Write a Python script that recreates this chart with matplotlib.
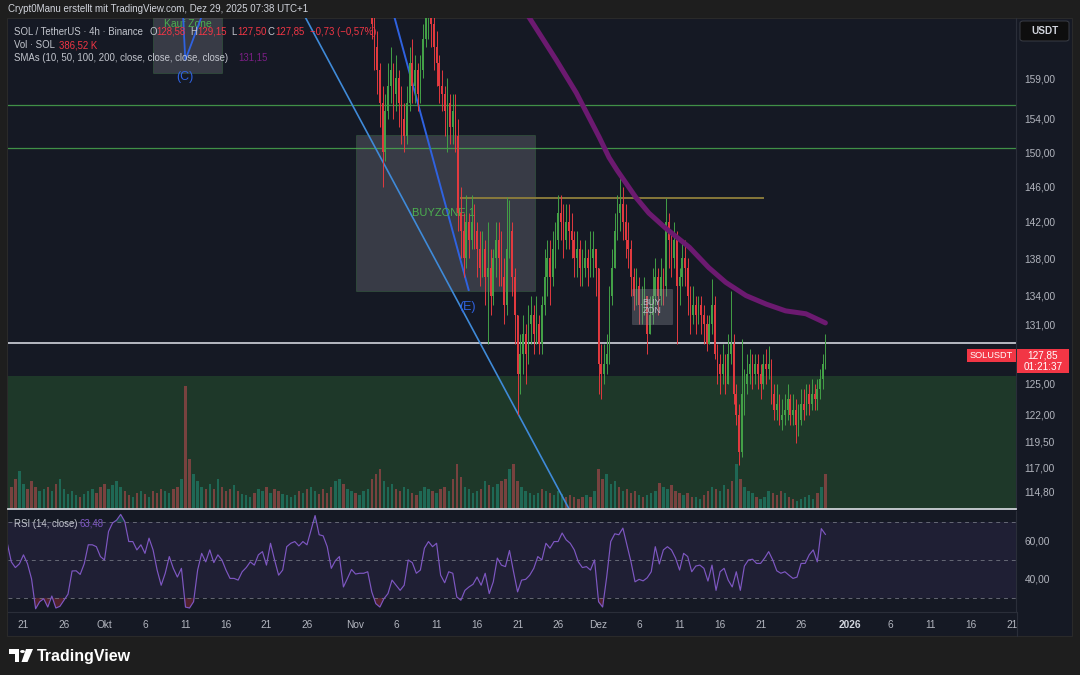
import matplotlib
matplotlib.use("Agg")
import matplotlib.pyplot as plt
import matplotlib.dates as mdates
import matplotlib.transforms as mtransforms
from matplotlib.patches import Rectangle, Polygon, Circle, FancyBboxPatch
from matplotlib.ticker import NullLocator, FixedLocator
import numpy as np
import pandas as pd

plt.rcParams['font.family'] = ['Liberation Sans', 'DejaVu Sans']

# ---------------- DATA ----------------
# SOL/USDT candles, 8h resolution, starting 2025-11-03 00:00
candle_start = '2025-11-03 00:00'
first_open = 170.0
close = [
    166, 163, 160, 156, 150, 155, 158, 160, 157, 159, 156, 154, 152, 156, 161, 158, 160, 157, 160, 164, 167, 168, 166, 163,
    161, 158, 157, 155, 156, 153, 155, 152, 143, 141, 138, 142, 140, 142, 141, 139, 137, 139, 136, 137, 134, 138, 140, 138,
    136, 133, 139, 141, 136, 132, 126, 128, 130, 128, 131, 132, 130, 131, 129, 133, 136, 138, 136, 139, 140, 143, 142, 140,
    142, 141, 140, 138, 139, 137, 137, 138, 137, 138, 139, 137, 127, 126, 127, 128, 134, 137, 141, 143, 144, 142, 140, 139,
    136, 134, 135, 133, 133, 134, 130, 132, 134, 136, 134, 136, 135, 142, 140, 138, 140, 135, 136, 138, 137, 134, 132, 133,
    132, 133, 132, 131, 129, 131, 133, 128, 127, 126, 127, 125, 128, 129, 124, 122, 118.5, 124, 125, 126, 127, 126, 127, 126,
    125, 127, 126.5, 127, 124, 122.5, 123, 121.5, 122, 122.5, 123.5, 122, 122.5, 121, 121.5, 123, 122.5, 124, 123, 124, 123.5,
    124.5, 125.5, 127, 127.85]
high = [
    172, 167, 165, 161, 158, 157, 161, 163, 161, 162, 160, 158, 156, 158, 163, 164, 162, 161, 162, 166, 170, 172, 171, 168,
    165, 162, 160, 158, 159, 157, 157, 157, 154, 146, 143, 145, 143, 145, 144, 142, 141, 141, 140, 142, 139, 139, 142, 142,
    141, 138, 144.8, 144.5, 142, 137, 132, 130, 132, 131, 133, 134, 133, 134, 132, 134, 139, 140, 140, 141, 142, 145, 145, 144,
    144, 144, 143, 141, 141, 140, 139, 140, 139, 141, 141, 139, 137, 129, 129, 130, 135, 139, 143, 145, 147, 146, 144, 142,
    140, 137, 137, 136, 135, 136, 134, 134, 137, 138, 137, 138, 137, 144.7, 143, 141, 142, 141, 137, 140, 140, 138, 135, 135,
    134, 134, 134, 133, 132, 132, 135.8, 134, 129, 128, 129, 128, 130, 134.5, 130, 125, 123, 129.5, 126.5, 128, 128.5, 128, 128, 128,
    127, 128, 128.5, 128.8, 127.5, 125, 125, 124, 123.5, 124, 125, 124, 124, 123.5, 123, 124.5, 124.5, 125, 125, 125.5, 125,
    125.5, 126.5, 128, 130.0]
low = [
    164, 160, 157, 153, 146, 149, 154, 156, 154, 155, 153, 151, 150, 151, 155, 156, 156, 155, 156, 159, 163, 164, 163, 160,
    158, 156, 155, 152, 150, 151, 151, 150, 141, 138, 136, 137, 138, 139, 139, 136, 135, 136, 133, 129, 132, 133, 136, 135,
    135, 131, 132, 138, 134, 129, 122, 124, 126, 125, 127, 129, 128, 129, 128, 128, 132, 134, 133, 135, 137, 139, 140, 138,
    139, 139, 138, 136, 136, 135, 135, 136, 135, 136, 136, 134, 124, 123.5, 125, 126, 127, 133, 137, 140, 141, 140, 138, 137,
    134, 132.5, 133, 131, 131, 132, 128, 130, 131, 133, 132, 133, 133, 134, 137, 136, 137, 129, 133, 135, 135, 132, 130, 131,
    130, 131, 130, 129, 128.3, 129, 130, 127.5, 125, 124, 125, 124, 125, 127, 123, 121, 117.3, 118, 122, 124, 125, 124.5, 125, 124.5,
    123.5, 124.5, 125, 125.5, 123, 121.5, 121.5, 121, 120.5, 121, 121.5, 121, 121, 119.3, 120, 121, 121.5, 122, 122, 122.5, 122.5,
    122.5, 123.5, 124.5, 126.5]

# RSI(14) and volume, 12h samples starting 2025-09-19 00:00
ind_start = '2025-09-19 00:00'
rsi = [
    58.8, 49, 46, 48, 52.7, 48, 40, 24.3, 28, 29.6,
    25.2, 31, 24.7, 25.6, 28.8, 32, 44.2, 44.3, 42.4, 48,
    58, 58, 57, 51.8, 50, 65, 69.5, 71, 74, 70.3,
    59.7, 59.7, 55.3, 58, 53.5, 61.5, 55.3, 44.7, 36.7, 43,
    51.8, 45.6, 41, 45.6, 25.2, 24.7, 28, 44.7, 53.5, 49,
    55.3, 48.6, 52.7, 50, 44.7, 40.3, 40.3, 39.4, 43.8, 46,
    49, 47.3, 52.7, 54.4, 47.3, 58.8, 50, 42, 44.7, 57,
    58.8, 59.7, 57.4, 59.7, 58, 65.6, 73.4, 63.3, 62.7, 57,
    45.6, 49.6, 51.8, 35.8, 40.3, 45, 42.6, 43, 43, 43.8,
    33.2, 27, 25.2, 29.6, 32.3, 39.4, 36.7, 34, 36.7, 50,
    48.6, 43, 44.7, 56.2, 59.7, 57, 58.8, 42, 38, 43.8,
    43, 30.5, 28.8, 34, 35.8, 37.2, 41, 36.7, 43, 32.3,
    38.5, 51, 47.3, 46.5, 55, 43.8, 33.2, 39.4, 39.8, 42,
    45.6, 51.8, 50, 58.8, 56.2, 59.7, 59.7, 64.2, 60.6, 58.8,
    55.3, 49, 46, 46.5, 44.7, 50, 28, 25.2, 41, 59.7,
    63.8, 63.3, 66.8, 58, 49, 38.5, 39.8, 39, 40.6, 43.8,
    57, 47.9, 55.3, 57, 55.3, 51, 44.7, 53.5, 51.8, 43.8,
    46.8, 47.3, 45.6, 38.9, 47.3, 34, 43.8, 45.6, 39.4, 35.8,
    43.8, 34, 46.8, 50, 50.4, 48.2, 48.2, 51, 54.4, 50,
    44.3, 43, 43.8, 42, 40.3, 41, 48.2, 48.2, 52.7, 55.3,
    49, 66.5, 63.48]
vol_10k = [
    18, 22, 30, 38, 25, 20, 28, 22, 18, 20,
    22, 18, 25, 30, 20, 15, 18, 14, 12, 15,
    18, 20, 16, 22, 25, 20, 24, 28, 22, 18,
    14, 12, 16, 18, 15, 12, 18, 16, 20, 18,
    16, 20, 22, 30, 123, 50, 35, 28, 22, 20,
    25, 20, 30, 22, 18, 20, 24, 18, 15, 14,
    12, 16, 20, 18, 22, 16, 20, 18, 15, 14,
    12, 14, 18, 16, 20, 22, 18, 15, 20, 16,
    22, 28, 30, 25, 20, 18, 16, 14, 18, 20,
    30, 35, 40, 28, 22, 25, 20, 18, 22, 20,
    16, 14, 18, 22, 20, 18, 16, 20, 22, 18,
    30, 45, 32, 22, 20, 16, 18, 20, 28, 24,
    22, 25, 28, 30, 40, 45, 28, 22, 18, 16,
    14, 16, 20, 18, 16, 14, 18, 15, 12, 14,
    12, 10, 12, 14, 12, 18, 40, 30, 35, 25,
    28, 22, 18, 20, 16, 18, 14, 12, 14, 16,
    18, 26, 22, 20, 24, 18, 16, 14, 16, 12,
    12, 10, 14, 18, 22, 20, 18, 24, 20, 28,
    45, 30, 22, 18, 16, 12, 10, 12, 18, 16,
    14, 18, 16, 12, 10, 8, 10, 12, 14, 10,
    16, 22, 35]

# SMA 200 (purple) readings
sma_dates = ['2025-11-21 12:00', '2025-11-22 12:00', '2025-11-25 19:00', '2025-11-28 06:00', '2025-12-01 02:00',
             '2025-12-02 07:00', '2025-12-03 07:00', '2025-12-05 14:00', '2025-12-07 05:00', '2025-12-09 07:00',
             '2025-12-12 05:00', '2025-12-14 14:00', '2025-12-16 17:00', '2025-12-19 05:00', '2025-12-21 17:00',
             '2025-12-24 02:00', '2025-12-26 14:00', '2025-12-29 00:00']
sma_vals = [168.4, 166.7, 161.3, 157.2, 151.8, 149.4, 147.9, 144.8, 143.0, 141.3,
            139.2, 137.0, 135.4, 134.0, 133.1, 132.4, 132.1, 131.15]

# axis ticks
x_tick_dates = ['2025-09-21', '2025-09-26', '2025-10-01', '2025-10-06', '2025-10-11', '2025-10-16', '2025-10-21',
                '2025-10-26', '2025-11-01', '2025-11-06', '2025-11-11', '2025-11-16', '2025-11-21', '2025-11-26',
                '2025-12-01', '2025-12-06', '2025-12-11', '2025-12-16', '2025-12-21', '2025-12-26', '2026-01-01',
                '2026-01-06', '2026-01-11', '2026-01-16', '2026-01-21']
x_tick_labels = ['21', '26', 'Okt', '6', '11', '16', '21', '26', 'Nov', '6', '11', '16', '21', '26',
                 'Dez', '6', '11', '16', '21', '26', '2026', '6', '11', '16', '21']
price_ticks = [114.8, 117, 119.5, 122, 125, 131, 134, 138, 142, 146, 150, 154, 159]
price_tick_labels = ['114,80', '117,00', '119,50', '122,00', '125,00', '131,00', '134,00', '138,00',
                     '142,00', '146,00', '150,00', '154,00', '159,00']
rsi_ticks = [40, 60]
rsi_tick_labels = ['40,00', '60,00']

# drawn levels / zones
green_levels = [155.65, 150.53]
white_level = 129.05
zone_top = 125.8
resistance = 144.67
last_price = 127.85

# ---------------- STYLE ----------------
W, H = 1080, 675
BG = '#151924'
OUTER = '#1e1e1e'
UP = '#43a047'
DN = '#e23a3f'
TXT = '#b2b5be'
GRID = '#2a2e39'
FS = 6.9

def R(x0, y0, x1, y1):
    return [x0 / W, 1 - y1 / H, (x1 - x0) / W, (y1 - y0) / H]

def P(x, y):
    return (x / W, 1 - y / H)

def d(s):
    return mdates.date2num(pd.Timestamp(s).to_pydatetime())

fig = plt.figure(figsize=(10.8, 6.75), dpi=100)
fig.patch.set_facecolor(OUTER)
fig.add_artist(Rectangle(P(7, 636), 1065 / W, 618 / H, transform=fig.transFigure,
                         facecolor=BG, edgecolor='#2a2a2a', lw=0.8, zorder=-10))

XL = (d('2025-09-19 02:10'), d('2026-01-21 12:45'))

# ---- volume axes (behind) ----
vax = fig.add_axes(R(8, 18, 1016, 509))
vax.set_facecolor('none')
vax.set_xlim(*XL)
vax.set_ylim(0, 490)
vax.axis('off')

# ---- main price axes ----
ax = fig.add_axes(R(8, 18, 1016, 509))
ax.set_facecolor('none')
ax.set_yscale('log')
ax.set_xlim(*XL)
ax.set_ylim(113.27, 166.75)

# green zone (behind volume)
blend_v = mtransforms.blended_transform_factory(vax.transAxes, ax.transData)
vax.add_patch(Rectangle((0, 100), 1, zone_top - 100, transform=blend_v,
                        facecolor='#1f3a2a', edgecolor='none', alpha=0.95, zorder=0))

t_ind = mdates.date2num(pd.date_range(ind_start, periods=len(rsi), freq='12h').to_pydatetime())
rsi_a = np.array(rsi)
vol_up = np.concatenate([[True], rsi_a[1:] >= rsi_a[:-1]])
vax.bar(t_ind, vol_10k, width=0.3, color=np.where(vol_up, '#22ab94', '#f7525f'), alpha=0.42, lw=0, zorder=1)

# horizontal levels
for lv in green_levels:
    ax.axhline(lv, color='#4caf50', lw=0.9, alpha=0.8, zorder=2)
ax.axhline(white_level, color='#d1d4dc', lw=1.2, zorder=2)
ax.hlines(resistance, d('2025-11-13 20:00'), d('2025-12-21 10:00'), color='#8f7f3c', lw=1.3, zorder=2)

# BUYZONE box
ax.add_patch(Rectangle((d('2025-11-01 00:00'), 134.45), d('2025-11-23 05:00') - d('2025-11-01 00:00'),
                       152.04 - 134.45, facecolor='#8a8d96', alpha=0.3, edgecolor='#4caf50', lw=0.5, zorder=1.5))
ax.text(d('2025-11-11 21:00'), 142.96, 'BUYZONE 1', color='#4caf50', fontsize=8, ha='center', va='center', zorder=2.5)

# small BUY ZON box
ax.add_patch(Rectangle((d('2025-12-05 03:00'), 131.05), d('2025-12-10 01:00') - d('2025-12-05 03:00'),
                       134.7 - 131.05, facecolor='#8a8d96', alpha=0.35, edgecolor='#9598a1', lw=0.4, zorder=3.5))
ax.text(d('2025-12-07 14:00'), 132.85, 'BUY\nZON', color='#b8bbc4', fontsize=6.5, ha='center', va='center',
        linespacing=0.9, zorder=3.6)

# Kauf Zone box
ax.add_patch(Rectangle((d('2025-10-07 00:00'), 159.67), d('2025-10-15 12:00') - d('2025-10-07 00:00'),
                       180 - 159.67, facecolor='#8a8d96', alpha=0.3, edgecolor='#4caf50', lw=0.5, zorder=1.5))
ax.text(d('2025-10-11 06:00'), 166.0, 'Kauf Zone', color='#4caf50', fontsize=7.5, ha='center', va='center',
        zorder=2.5, clip_on=True)
ax.plot([d('2025-10-10 16:00'), d('2025-10-10 23:30'), d('2025-10-13 07:00')], [167.8, 161.3, 167.8],
        color='#2f62e0', lw=1.3, zorder=2.6)
ax.text(d('2025-10-10 23:30'), 159.16, '(C)', color='#2f62e0', fontsize=9, ha='center', va='center', zorder=2.6)

# trend lines
ax.plot([d('2025-10-23 08:00'), d('2025-11-28 20:00')], [171.8, 111.3], color='#3f8ad8', lw=1.2, zorder=2.4)
ax.plot([d('2025-11-04 21:00'), d('2025-11-14 23:00')], [170.5, 134.6], color='#2f62e0', lw=1.4, zorder=2.4)
ax.text(d('2025-11-14 20:00'), 132.85, '(E)', color='#2f62e0', fontsize=9, ha='center', va='center', zorder=2.6)

# candles
t_c = mdates.date2num(pd.date_range(candle_start, periods=len(close), freq='8h').to_pydatetime())
c = np.array(close, float)
o = np.concatenate([[first_open], c[:-1]])
hh = np.maximum(np.array(high, float), np.maximum(o, c))
ll = np.minimum(np.array(low, float), np.minimum(o, c))
col = np.where(c >= o, UP, DN)
ax.vlines(t_c, ll, hh, colors=col, lw=0.7, zorder=3)
ax.bar(t_c, np.maximum(np.abs(c - o), 0.15), bottom=np.minimum(o, c), width=0.21, color=col, lw=0, zorder=3.1)

# SMA
ax.plot([d(s) for s in sma_dates], sma_vals, color='#6c1a70', lw=3.6, solid_capstyle='round', zorder=4)

# axes styling
ax.yaxis.tick_right()
ax.yaxis.set_major_locator(FixedLocator(price_ticks))
ax.yaxis.set_minor_locator(NullLocator())
ax.set_yticklabels(price_tick_labels)
ax.tick_params(axis='y', length=0, pad=6, labelsize=7.3, labelcolor=TXT)
ax.set_xticks([])
for s in ['top', 'left']:
    ax.spines[s].set_visible(False)
ax.spines['right'].set_color(GRID)
ax.spines['bottom'].set_color('#cfd2d8')
ax.spines['bottom'].set_linewidth(1.3)

# ---- RSI pane ----
rax = fig.add_axes(R(8, 511, 1016, 612))
rax.set_facecolor(BG)
rax.set_xlim(*XL)
rax.set_ylim(22.6, 75.8)
rax.axhspan(30, 70, color='#7e57c2', alpha=0.10, lw=0)
for lv in (70, 50, 30):
    rax.axhline(lv, color='#787b86', lw=0.7, ls=(0, (4, 4)), alpha=0.8)
rax.fill_between(t_ind, rsi_a, 30, where=rsi_a < 30, interpolate=True, color='#f23645', alpha=0.28, lw=0)
rax.fill_between(t_ind, rsi_a, 70, where=rsi_a > 70, interpolate=True, color='#22ab94', alpha=0.28, lw=0)
rax.plot(t_ind, rsi_a, color='#7e57c2', lw=0.85)
rax.yaxis.tick_right()
rax.set_yticks(rsi_ticks)
rax.set_yticklabels(rsi_tick_labels)
rax.tick_params(axis='y', length=0, pad=6, labelsize=7.3, labelcolor=TXT)
rax.set_xticks([d(s) for s in x_tick_dates])
rax.set_xticklabels(x_tick_labels)
rax.tick_params(axis='x', length=0, pad=6, labelsize=7.3, labelcolor=TXT)
for lbl in rax.get_xticklabels():
    if lbl.get_text() == '2026':
        lbl.set_fontweight('bold')
        lbl.set_color('#d1d4dc')
for s in ['top', 'left']:
    rax.spines[s].set_visible(False)
rax.spines['right'].set_color(GRID)
rax.spines['bottom'].set_color(GRID)

# vertical separator through time axis
fig.add_artist(plt.Line2D([1016.5 / W] * 2, [1 - 636 / H, 1 - 612 / H], transform=fig.transFigure, color=GRID, lw=0.8))

# ---- header and legends ----
fig.text(*P(8, 9), 'Crypt0Manu erstellt mit TradingView.com, Dez 29, 2025 07:38 UTC+1',
         color='#d1d4dc', fontsize=7.0, va='center', ha='left')
LG = '#c3c6ce'
RED = '#f23645'
fig.text(*P(14, 32), 'SOL / TetherUS · 4h · Binance', color=LG, fontsize=FS, va='center')
for x, s, cc in [(149, 'O', LG), (156, '128,58', RED), (190, 'H', LG), (197, '129,15', RED),
                 (231, 'L', LG), (237, '127,50', RED), (268, 'C', LG), (275, '127,85', RED),
                 (310, '\u22120,73 (\u22120,57%)', RED)]:
    fig.text(*P(x, 32), s, color=cc, fontsize=FS, va='center')
fig.text(*P(14, 45), 'Vol · SOL', color=LG, fontsize=FS, va='center')
fig.text(*P(59, 45), '386,52 K', color=RED, fontsize=FS, va='center')
fig.text(*P(14, 58), 'SMAs (10, 50, 100, 200, close, close, close, close)', color=LG, fontsize=FS, va='center')
fig.text(*P(238, 58), '131,15', color='#7b1f85', fontsize=FS, va='center')
fig.text(*P(14, 524), 'RSI (14, close)', color=LG, fontsize=FS, va='center')
fig.text(*P(79, 524), '63,48', color='#7e57c2', fontsize=FS, va='center')

# USDT box
fig.add_artist(FancyBboxPatch(P(1020, 41), 49 / W, 20 / H, boxstyle='round,pad=0,rounding_size=0.003',
                              transform=fig.transFigure, facecolor='#0e0e0e', edgecolor='#3a3d45', lw=0.7))
fig.text(*P(1044.5, 31), 'USDT', color='#d1d4dc', fontsize=7.2, ha='center', va='center', fontweight='bold')

# last price labels
fig.add_artist(Rectangle(P(967, 362), 49 / W, 13 / H, transform=fig.transFigure, facecolor=RED, edgecolor='none'))
fig.text(*P(991.5, 355.5), 'SOLUSDT', color='white', fontsize=6.6, ha='center', va='center')
fig.add_artist(Rectangle(P(1017, 373), 52 / W, 24 / H, transform=fig.transFigure, facecolor=RED, edgecolor='none'))
fig.text(*P(1043, 355.5), '127,85', color='white', fontsize=7.2, ha='center', va='center')
fig.text(*P(1043, 366.5), '01:21:37', color='white', fontsize=7.2, ha='center', va='center')

# TradingView logo
logo = [(9, 649), (19, 649), (19, 662), (15, 662), (15, 654), (9, 654)]
fig.add_artist(Polygon([P(x, y) for x, y in logo], closed=True, transform=fig.transFigure, facecolor='white', edgecolor='none'))
fig.add_artist(Circle(P(22.5, 651.5), 2.4 / W, transform=fig.transFigure, facecolor='white', edgecolor='none'))
par = [(26, 649), (33, 649), (27.5, 662), (21.5, 662)]
fig.add_artist(Polygon([P(x, y) for x, y in par], closed=True, transform=fig.transFigure, facecolor='white', edgecolor='none'))
fig.text(*P(37, 656), 'TradingView', color='white', fontsize=11.5, fontweight='bold', va='center', ha='left')

fig.savefig('out.png', dpi=100, facecolor=fig.get_facecolor())
